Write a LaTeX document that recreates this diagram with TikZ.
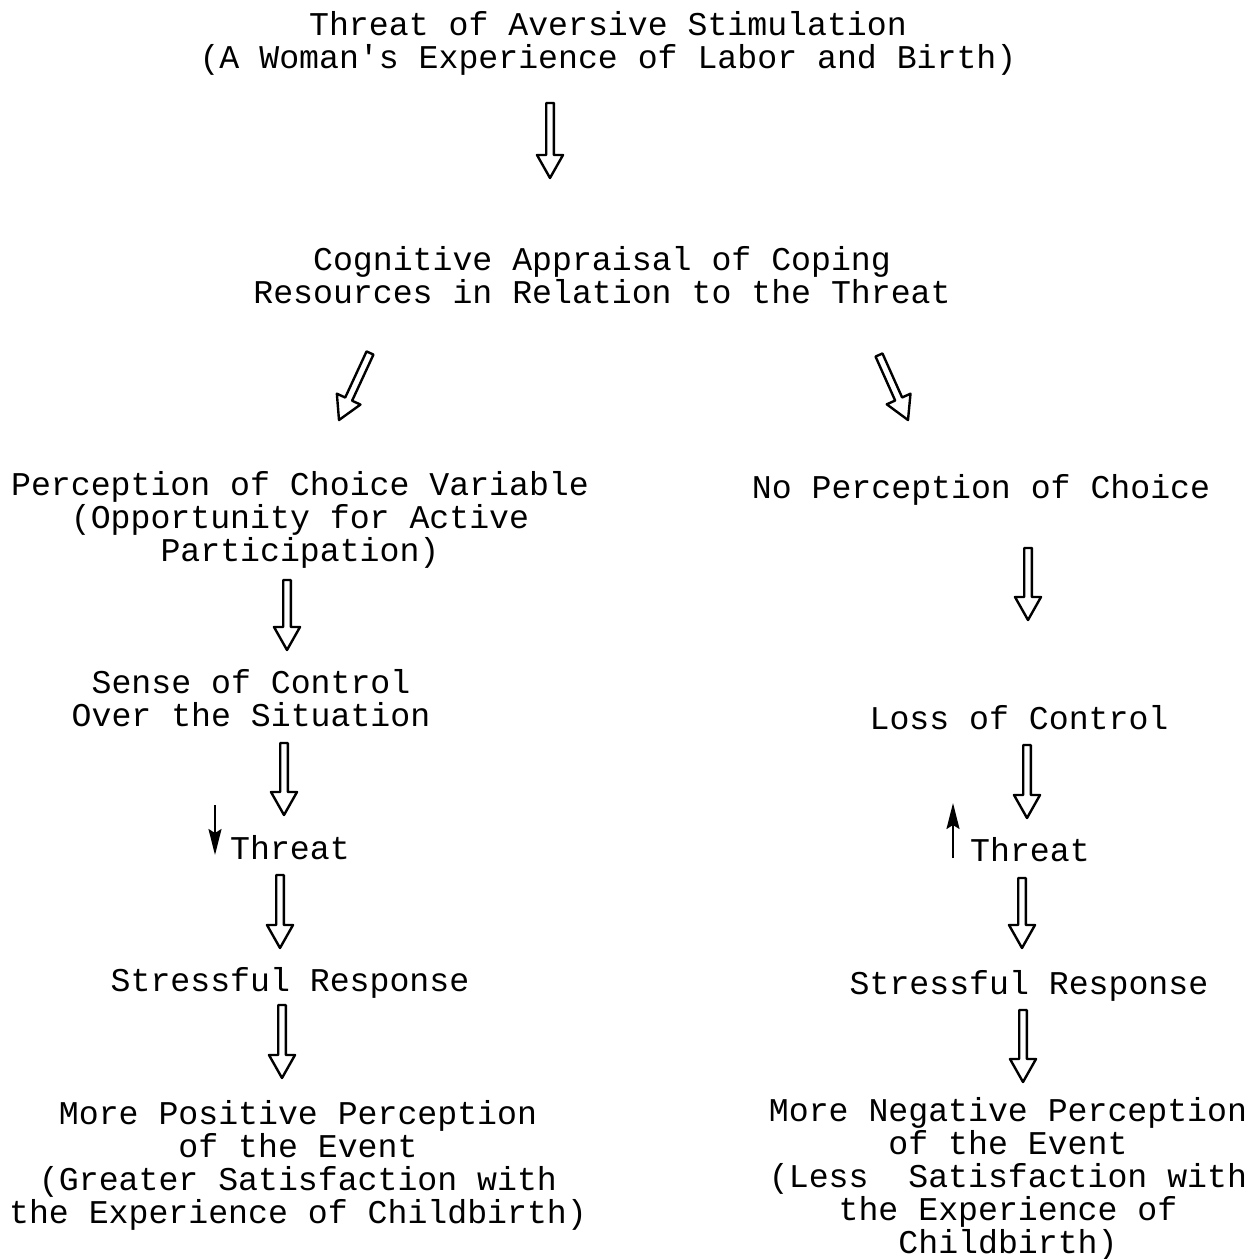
\documentclass[tikz,border=0pt]{standalone}
\usepackage{fontspec}
\setmonofont{Liberation Mono}
\usetikzlibrary{calc,arrows.meta}

\tikzset{
  txt/.style={font=\ttfamily\fontsize{16.6}{16.5}\selectfont, align=center, inner sep=0pt},
  hollow/.style={line width=1.2pt, line join=round,
    to path={coordinate (hS) (\tikztotarget) coordinate (hT)
      ($(hT)!11.5pt!(hS)$) coordinate (hM)
      ($(hS)!1.9pt!90:(hT)$) -- ($(hM)!1.9pt!90:(hT)$) -- ($(hM)!6.5pt!90:(hT)$) -- (hT)
      -- ($(hM)!6.5pt!-90:(hT)$) -- ($(hM)!1.9pt!-90:(hT)$) -- ($(hS)!1.9pt!-90:(hT)$) -- cycle}},
  updown/.style={line width=1pt, -{Stealth[length=13pt,width=6.5pt,inset=2pt]}}
}

\begin{document}
\begin{tikzpicture}[x=0.5pt, y=-0.5pt]
  \useasboundingbox (0,0) rectangle (1256,1259);

  % 上
  \node[txt] (top) at (608,43) {Threat of Aversive Stimulation\\(A Woman's Experience of Labor and Birth)};
  \node[txt] (cog) at (602,275) {Cognitive Appraisal of Coping\\Resources in Relation to the Threat};

  % 左
  \node[txt] (choice) at (300,520) {Perception of Choice Variable\\(Opportunity for Active\\Participation)};
  \node[txt] (sense) at (251,698) {Sense of Control\\Over the Situation};
  \node[txt] (thrL) at (290,848) {Threat};
  \node[txt] (stressL) at (290,983) {Stressful Response};
  \node[txt] (posL) at (298,1165) {More Positive Perception\\of the Event\\(Greater Satisfaction with\\the Experience of Childbirth)};

  % 右
  \node[txt] (nochoice) at (981,490) {No Perception of Choice};
  \node[txt] (loss) at (1019,718) {Loss of Control};
  \node[txt] (thrR) at (1030,850) {Threat};
  \node[txt] (stressR) at (1029,986) {Stressful Response};
  \node[txt] (negR) at (1008,1179) {More Negative Perception\\of the Event\\(Less\ \ Satisfaction with\\the Experience of\\Childbirth)};

  % 矢印
  \draw[hollow] ($(top)+(-58,60)$) to ($(cog)+(-52,-97)$);
  \draw[hollow] ($(cog)+(-232,78)$) to ($(choice)+(39,-100)$);
  \draw[hollow] ($(cog)+(277,80)$) to ($(nochoice)+(-73,-70)$);
  \draw[hollow] ($(choice)+(-13,60)$) to ($(sense)+(36,-48)$);
  \draw[hollow] ($(nochoice)+(47,58)$) to ($(loss)+(9,-98)$);
  \draw[hollow] ($(sense)+(33,45)$) to ($(thrL)+(-6,-33)$);
  \draw[hollow] ($(loss)+(8,27)$) to ($(thrR)+(-3,-32)$);
  \draw[hollow] ($(thrL)+(-10,27)$) to ($(stressL)+(-10,-35)$);
  \draw[hollow] ($(thrR)+(-8,28)$) to ($(stressR)+(-7,-38)$);
  \draw[hollow] ($(stressL)+(-8,22)$) to ($(posL)+(-16,-87)$);
  \draw[hollow] ($(stressR)+(-6,24)$) to ($(negR)+(15,-97)$);

  % 小さい矢印
  \draw[updown] ($(thrL)+(-75,-43)$) -- ($(thrL)+(-75,7)$);
  \draw[updown] ($(thrR)+(-77,8)$) -- ($(thrR)+(-77,-47)$);
\end{tikzpicture}
\end{document}
